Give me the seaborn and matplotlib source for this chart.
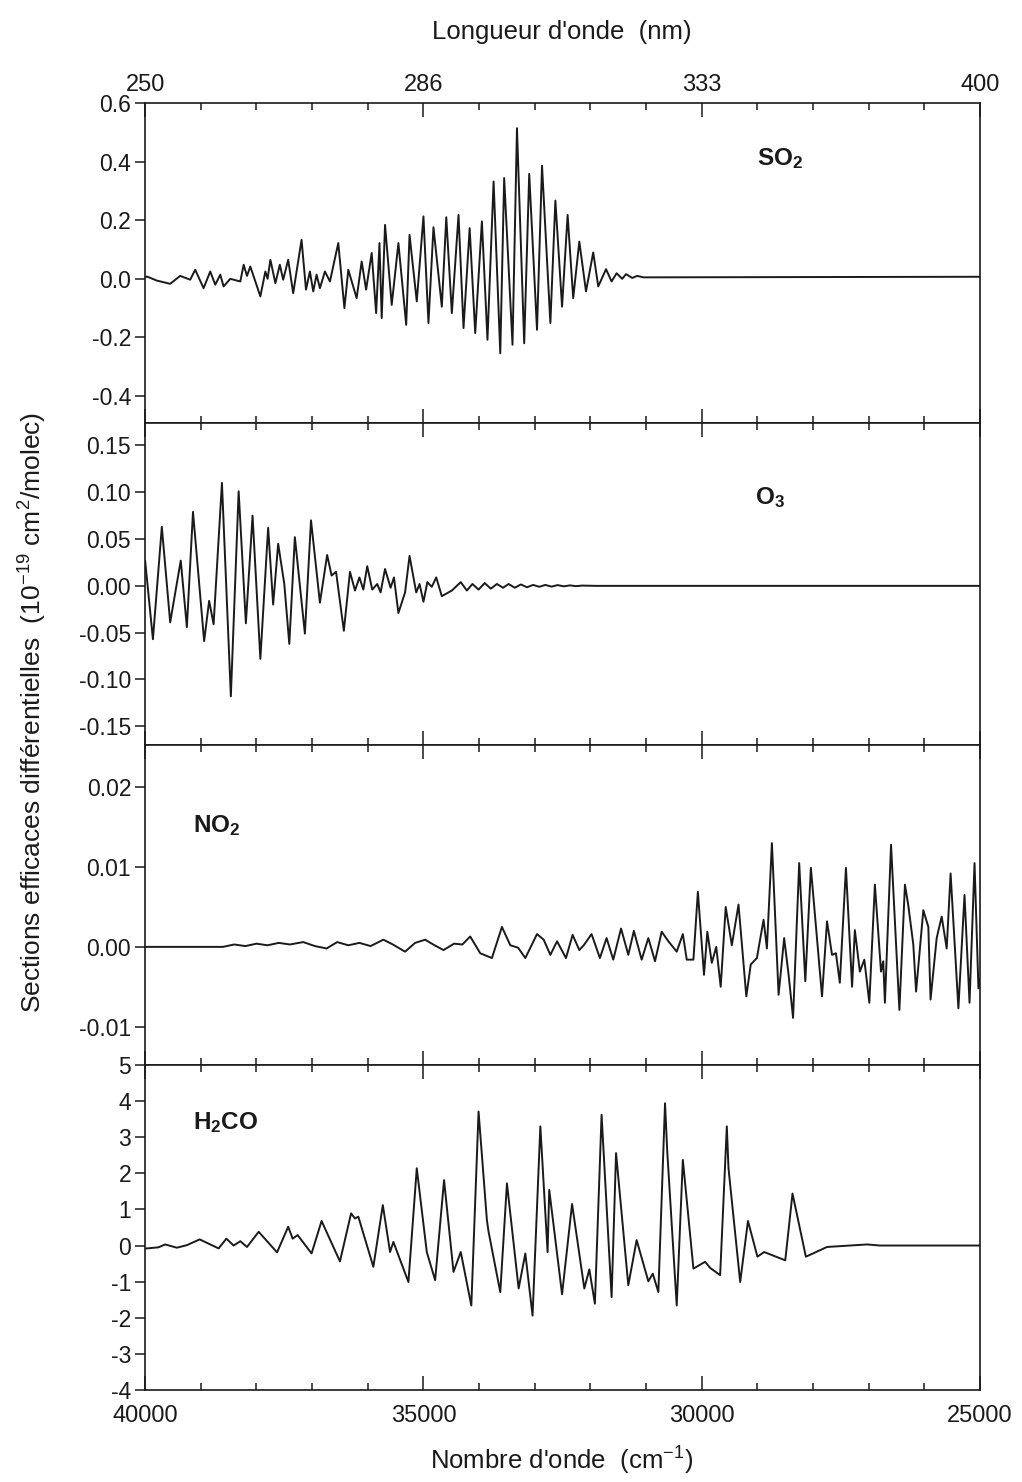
import pandas as pd
import seaborn as sns
import matplotlib.pyplot as plt
from matplotlib import font_manager
from matplotlib.ticker import MultipleLocator, FormatStrFormatter

# wavenumber (cm-1) / differential cross section (1e-19 cm2/molec)
so2_wn = [40000, 39970, 39790, 39550, 39370, 39190, 39100, 38950, 38830, 38740, 38650, 38590,
          38470, 38290, 38230, 38170, 38110, 37930, 37840, 37800, 37750, 37660, 37580, 37520,
          37430, 37340, 37190, 37110, 37040, 36980, 36920, 36860, 36770, 36680, 36530, 36420,
          36350, 36200, 36110, 36030, 35930, 35850, 35790, 35750, 35690, 35570, 35450, 35310,
          35250, 35120, 35000, 34910, 34820, 34670, 34590, 34490, 34370, 34280, 34170, 34070,
          33950, 33850, 33740, 33620, 33550, 33400, 33320, 33190, 33100, 32960, 32870, 32720,
          32630, 32510, 32410, 32310, 32200, 32080, 31950, 31860, 31720, 31620, 31530, 31430,
          31360, 31250, 31160, 31050, 25000]
so2_xs = [0.005, 0.008, -0.006, -0.017, 0.010, -0.003, 0.031, -0.032, 0.025, -0.020, 0.014, -0.026,
          0.000, -0.009, 0.048, 0.010, 0.042, -0.060, 0.025, 0.000, 0.065, -0.015, 0.048, -0.003,
          0.065, -0.049, 0.133, -0.037, 0.025, -0.043, 0.014, -0.032, 0.025, -0.009, 0.122, -0.100,
          0.031, -0.066, 0.059, -0.037, 0.088, -0.117, 0.122, -0.134, 0.184, -0.089, 0.122, -0.157,
          0.150, -0.077, 0.213, -0.151, 0.176, -0.095, 0.210, -0.117, 0.218, -0.168, 0.173, -0.185,
          0.196, -0.208, 0.332, -0.254, 0.344, -0.225, 0.514, -0.220, 0.358, -0.174, 0.386, -0.151,
          0.267, -0.095, 0.218, -0.066, 0.127, -0.043, 0.090, -0.026, 0.033, -0.009, 0.019, 0.000,
          0.016, 0.003, 0.010, 0.005, 0.007]

o3_wn = [40000, 39860, 39700, 39550, 39360, 39250, 39140, 38940, 38850, 38770, 38620, 38460,
         38320, 38190, 38070, 37930, 37790, 37700, 37610, 37500, 37410, 37310, 37130, 37020,
         36860, 36730, 36650, 36570, 36430, 36320, 36230, 36150, 36080, 36010, 35920, 35830,
         35770, 35690, 35590, 35530, 35450, 35330, 35250, 35130, 35070, 35000, 34930, 34850,
         34770, 34670, 34490, 34330, 34220, 34120, 34010, 33900, 33790, 33680, 33570, 33470,
         33360, 33250, 33140, 33030, 32920, 32810, 32700, 32590, 32480, 32370, 32260, 32150,
         31900, 25000]
o3_xs = [0.027, -0.057, 0.063, -0.039, 0.027, -0.044, 0.079, -0.059, -0.016, -0.041, 0.110, -0.118,
         0.101, -0.040, 0.075, -0.078, 0.062, -0.020, 0.045, 0.002, -0.062, 0.052, -0.051, 0.070,
         -0.018, 0.033, 0.011, 0.015, -0.048, 0.015, -0.005, 0.009, -0.004, 0.021, -0.004, 0.002,
         -0.007, 0.018, -0.002, 0.009, -0.029, -0.007, 0.032, -0.007, 0.002, -0.017, 0.004, -0.001,
         0.009, -0.011, -0.005, 0.004, -0.005, 0.002, -0.004, 0.003, -0.003, 0.002, -0.002, 0.002,
         -0.002, 0.0015, -0.0015, 0.001, -0.001, 0.001, -0.0008, 0.0008, -0.0005, 0.0005, -0.0003, 0.0003,
         0.0, 0.0]

no2_wn = [40000, 38600, 38400, 38200, 38000, 37800, 37600, 37400, 37160, 36950, 36740, 36550,
          36350, 36150, 35950, 35720, 35550, 35330, 35150, 34970, 34800, 34640, 34450, 34300,
          34160, 33980, 33770, 33590, 33440, 33300, 33170, 32960, 32840, 32720, 32600, 32440,
          32320, 32200, 32120, 31980, 31830, 31710, 31590, 31450, 31320, 31220, 31080, 30960,
          30840, 30720, 30600, 30450, 30340, 30270, 30150, 30070, 29960, 29900, 29820, 29740,
          29660, 29570, 29460, 29340, 29200, 29120, 29010, 28890, 28830, 28740, 28620, 28520,
          28440, 28360, 28250, 28140, 28040, 27840, 27750, 27660, 27590, 27520, 27410, 27300,
          27250, 27160, 27080, 26990, 26890, 26780, 26740, 26710, 26600, 26450, 26350, 26290,
          26200, 26150, 26020, 25930, 25890, 25780, 25690, 25600, 25530, 25390, 25280, 25190,
          25100, 25030, 25000]
no2_xs = [0.0, 0.0, 0.0003, 0.0001, 0.0004, 0.0002, 0.0005, 0.0003, 0.0006, 0.0001, -0.0002, 0.0006,
          0.0002, 0.0005, 0.0001, 0.0009, 0.0003, -0.0006, 0.0005, 0.0009, 0.0002, -0.0004, 0.0004, 0.0003,
          0.0013, -0.0008, -0.0014, 0.0025, 0.0002, -0.0001, -0.0014, 0.0016, 0.0009, -0.0010, 0.0007, -0.0014,
          0.0015, -0.0004, 0.0002, 0.0016, -0.0014, 0.0011, -0.0016, 0.0023, -0.0010, 0.0020, -0.0016, 0.0011,
          -0.0018, 0.0019, 0.0007, -0.0006, 0.0016, -0.0016, -0.0016, 0.0069, -0.0035, 0.0019, -0.0020, 0.0000,
          -0.0050, 0.0050, 0.0002, 0.0053, -0.0062, -0.0022, -0.0014, 0.0034, -0.0002, 0.0130, -0.0060, 0.0011,
          -0.0035, -0.0089, 0.0105, -0.0043, 0.0099, -0.0062, 0.0032, -0.0010, -0.0008, -0.0045, 0.0099, -0.0050,
          0.0021, -0.0031, -0.0016, -0.0070, 0.0078, -0.0031, -0.0018, -0.0070, 0.0128, -0.0079, 0.0078, 0.0052,
          0.0003, -0.0056, 0.0046, 0.0025, -0.0066, 0.0011, 0.0038, -0.0002, 0.0092, -0.0077, 0.0065, -0.0070,
          0.0105, -0.0052, -0.0040]

h2co_wn = [40000, 39970, 39760, 39640, 39430, 39250, 39020, 38680, 38540, 38410, 38290, 38170,
           37960, 37630, 37430, 37350, 37260, 37010, 36830, 36500, 36300, 36230, 36170, 35900,
           35730, 35600, 35540, 35270, 35120, 34940, 34790, 34630, 34460, 34330, 34140, 34010,
           33860, 33830, 33620, 33500, 33290, 33170, 33040, 32900, 32770, 32740, 32510, 32330,
           32110, 32020, 31920, 31800, 31620, 31540, 31320, 31170, 30960, 30880, 30780, 30660,
           30620, 30450, 30340, 30150, 29940, 29850, 29670, 29550, 29520, 29310, 29170, 29000,
           28880, 28500, 28370, 28130, 27750, 27030, 26800, 25000]
h2co_xs = [-0.08, -0.08, -0.05, 0.03, -0.06, 0.01, 0.17, -0.08, 0.19, 0.00, 0.12, -0.04,
           0.38, -0.19, 0.52, 0.19, 0.29, -0.22, 0.68, -0.44, 0.89, 0.75, 0.80, -0.59,
           1.12, -0.18, 0.10, -1.01, 2.14, -0.18, -0.96, 1.81, -0.73, -0.18, -1.66, 3.71,
           0.70, 0.38, -1.29, 1.72, -1.19, -0.22, -1.94, 3.30, -0.18, 1.54, -1.35, 1.15,
           -1.19, -0.66, -1.61, 3.62, -1.43, 2.56, -1.10, 0.15, -0.99, -0.78, -1.29, 3.94,
           2.60, -1.66, 2.37, -0.64, -0.45, -0.62, -0.82, 3.30, 2.14, -1.01, 0.68, -0.31,
           -0.18, -0.41, 1.44, -0.31, -0.04, 0.03, 0.0, 0.0]

wn_major = [40000, 35000, 30000, 25000]
wn_labels = ["40000", "35000", "30000", "25000"]
nm_labels = ["250", "286", "333", "400"]

panels = [
    ("SO2", so2_wn, so2_xs, (-0.492, 0.6), [-0.4, -0.2, 0.0, 0.2, 0.4, 0.6], "%.1f",
     r"$\mathbf{SO_2}$", 28600, 0.41),
    ("O3", o3_wn, o3_xs, (-0.17, 0.174), [-0.15, -0.10, -0.05, 0.0, 0.05, 0.10, 0.15], "%.2f",
     r"$\mathbf{O_3}$", 28770, 0.094),
    ("NO2", no2_wn, no2_xs, (-0.0148, 0.0253), [-0.01, 0.0, 0.01, 0.02], "%.2f",
     r"$\mathbf{NO_2}$", 38720, 0.0152),
    ("H2CO", h2co_wn, h2co_xs, (-4, 5), [-4, -3, -2, -1, 0, 1, 2, 3, 4, 5], "%d",
     r"$\mathbf{H_2CO}$", 38560, 3.4),
]

sns.set_theme(style="ticks")
installed = {f.name for f in font_manager.fontManager.ttflist}
narrow = "Liberation Sans Narrow" if "Liberation Sans Narrow" in installed else "Liberation Sans"
plt.rcParams["font.family"] = ["Liberation Sans", "DejaVu Sans"]
plt.rcParams["mathtext.fontset"] = "custom"
plt.rcParams["mathtext.rm"] = "Liberation Sans"
plt.rcParams["mathtext.bf"] = "Liberation Sans:bold"
plt.rcParams["axes.unicode_minus"] = False

ink = "#1a1a1a"
fig = plt.figure(figsize=(10.22, 14.82), dpi=100)
gs = fig.add_gridspec(4, 1, height_ratios=[320, 322, 320, 325], left=0.142, right=0.959,
                      top=0.9305, bottom=0.0621, hspace=0)

for i, (name, wn, xs, ylim, yticks, fmt, label, lx, ly) in enumerate(panels):
    ax = fig.add_subplot(gs[i])
    df = pd.DataFrame({"wn": wn, "xs": xs})
    sns.lineplot(data=df, x="wn", y="xs", ax=ax, color=ink, linewidth=1.4, estimator=None)
    ax.set_xlim(40000, 25000)
    ax.set_ylim(*ylim)
    ax.set_xlabel("")
    ax.set_ylabel("")

    ax.set_xticks(wn_major)
    ax.xaxis.set_minor_locator(MultipleLocator(1000))
    ax.tick_params(axis="x", which="both", direction="in", top=True, bottom=True,
                   labelbottom=False, labeltop=False, width=1.1, color=ink)
    ax.tick_params(axis="x", which="major", length=10)
    ax.tick_params(axis="x", which="minor", length=5)
    if i == 0:
        ax.set_xticklabels(nm_labels)
        ax.tick_params(axis="x", labeltop=True, labelsize=17, pad=5, labelcolor=ink)
    if i == len(panels) - 1:
        ax.set_xticklabels(wn_labels)
        ax.tick_params(axis="x", labelbottom=True, labelsize=17, pad=11, labelcolor=ink)
    for t in ax.get_xticklabels():
        t.set_fontfamily(narrow)

    ax.set_yticks(yticks)
    ax.yaxis.set_major_formatter(FormatStrFormatter(fmt))
    ax.tick_params(axis="y", direction="out", left=True, right=False, length=7, width=1.1,
                   labelsize=16.5, pad=3, color=ink, labelcolor=ink)

    for s in ax.spines.values():
        s.set_linewidth(1.2)
        s.set_color(ink)

    ax.text(lx, ly, label, fontsize=17.5, ha="center", va="center", color=ink)

fig.text(562 / 1022, 1 - 32 / 1482, "Longueur d'onde  (nm)", ha="center", va="center",
         fontsize=18.5, family=narrow, color=ink)
fig.text(562 / 1022, 1 - 1460 / 1482, "Nombre d'onde  (cm$^{-1}$)", ha="center", va="center",
         fontsize=18.5, family=narrow, color=ink)
fig.text(32 / 1022, 1 - 712 / 1482,
         "Sections efficaces différentielles  (10$^{-19}$ cm$^2$/molec)",
         rotation=90, ha="center", va="center", fontsize=19, family=narrow, color=ink)

fig.savefig("out.png", dpi=100, facecolor="white")
